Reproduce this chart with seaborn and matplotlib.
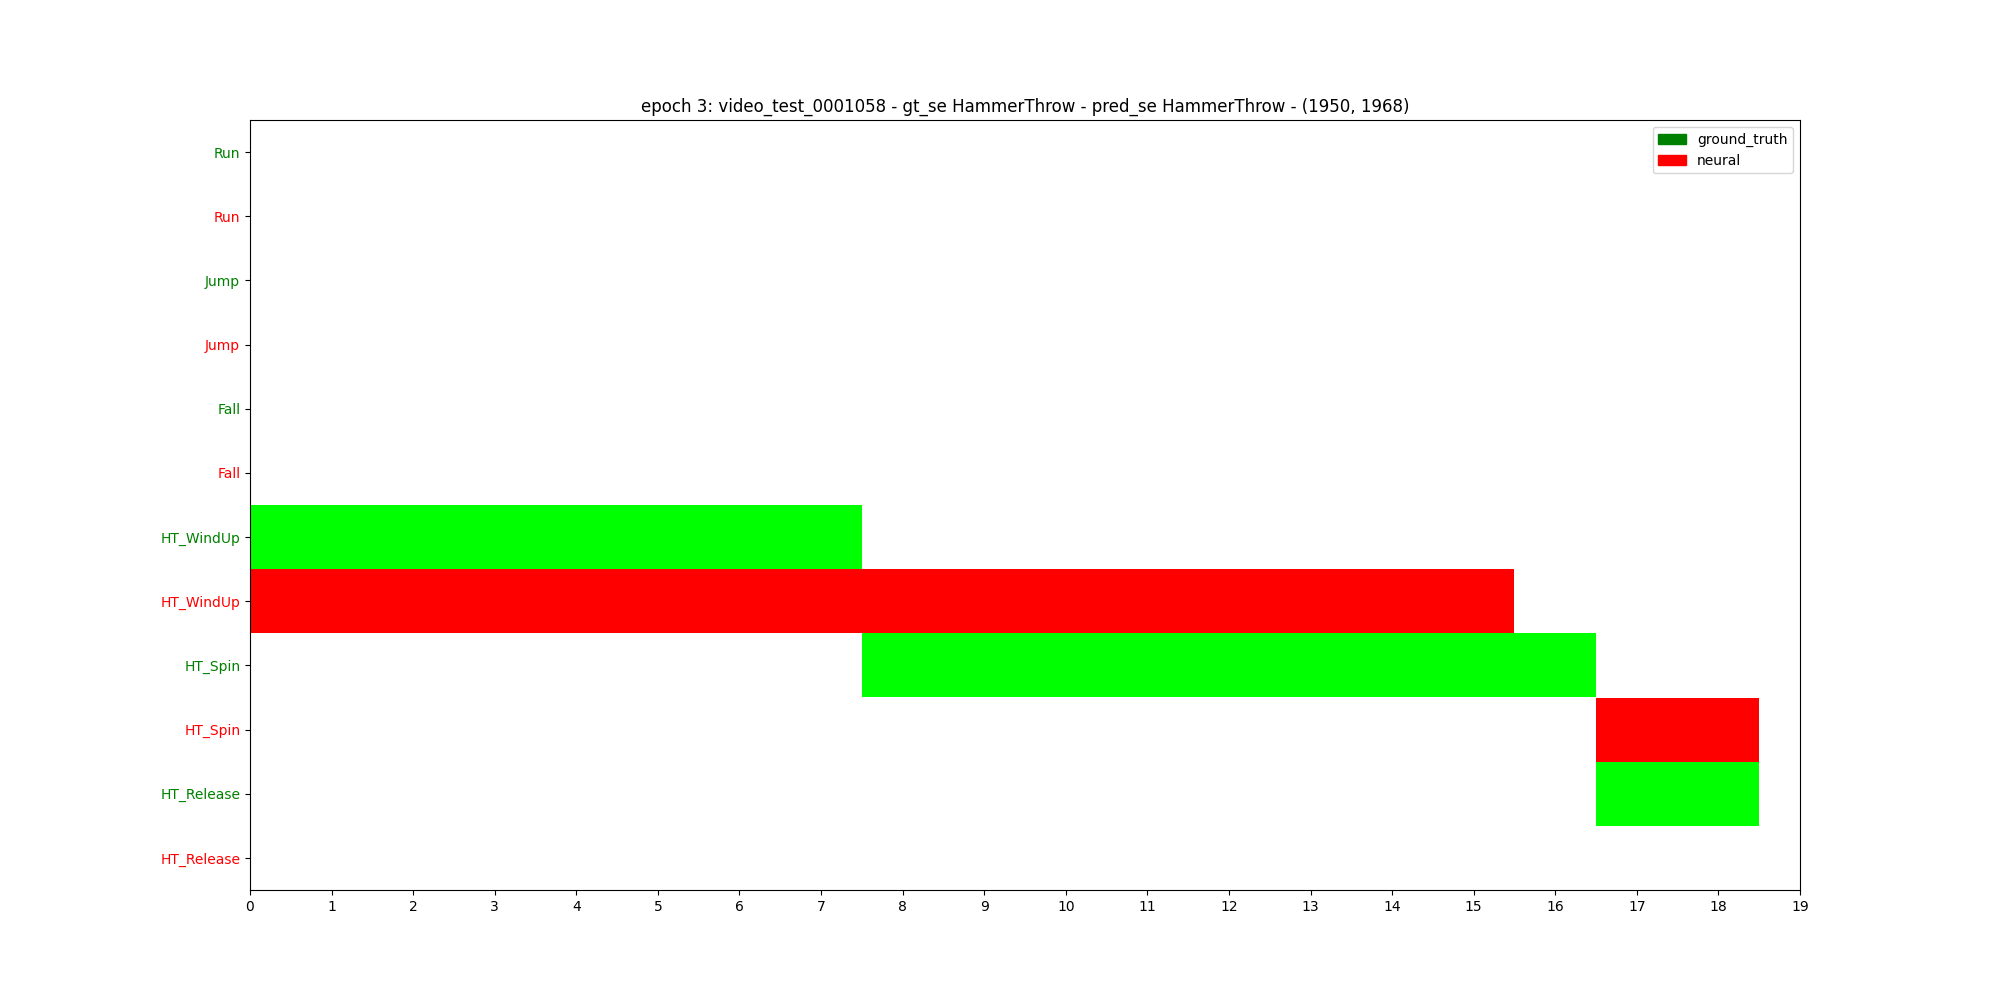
import matplotlib
matplotlib.use("Agg")
import matplotlib.pyplot as plt
import matplotlib.patches as mpatches
import seaborn as sns

# rows, top to bottom: each action has a ground-truth row then a neural row
actions = ["Run", "Jump", "Fall", "HT_WindUp", "HT_Spin", "HT_Release"]
sources = ["ground_truth", "neural"]
label_colors = {"ground_truth": "green", "neural": "red"}
bar_colors = {"ground_truth": "lime", "neural": "red"}

# segments: (action, source, start, end)
seg_action = ["HT_WindUp", "HT_WindUp", "HT_Spin", "HT_Spin", "HT_Release"]
seg_source = ["ground_truth", "neural", "ground_truth", "neural", "ground_truth"]
seg_start = [0, 0, 7.5, 16.5, 16.5]
seg_end = [7.5, 15.5, 16.5, 18.5, 18.5]

n_frames = 19
title = "epoch 3: video_test_0001058 - gt_se HammerThrow - pred_se HammerThrow - (1950, 1968)"

sns.set_style("ticks", {"axes.edgecolor": "black", "text.color": "black",
                        "xtick.color": "black", "ytick.color": "black"})
plt.rcParams['font.family'] = ['DejaVu Sans']

rows = [(a, s) for a in actions for s in sources]
row_idx = {r: i for i, r in enumerate(rows)}

fig, ax = plt.subplots(figsize=(20, 10), dpi=100)

for a, s, x0, x1 in zip(seg_action, seg_source, seg_start, seg_end):
    ax.barh(row_idx[(a, s)], x1 - x0, left=x0, height=1.0,
            color=bar_colors[s], edgecolor="none")

ax.set_yticks(range(len(rows)))
ax.set_yticklabels([a for a, s in rows])
for tl, (a, s) in zip(ax.get_yticklabels(), rows):
    tl.set_color(label_colors[s])

ax.set_ylim(len(rows) - 0.5, -0.5)
ax.set_xlim(0, n_frames)
ax.set_xticks(range(n_frames + 1))
ax.set_title(title)

handles = [mpatches.Patch(color=label_colors[s], label=s) for s in sources]
ax.legend(handles=handles, loc="upper right", frameon=True)

fig.savefig("out.png", dpi=100)
